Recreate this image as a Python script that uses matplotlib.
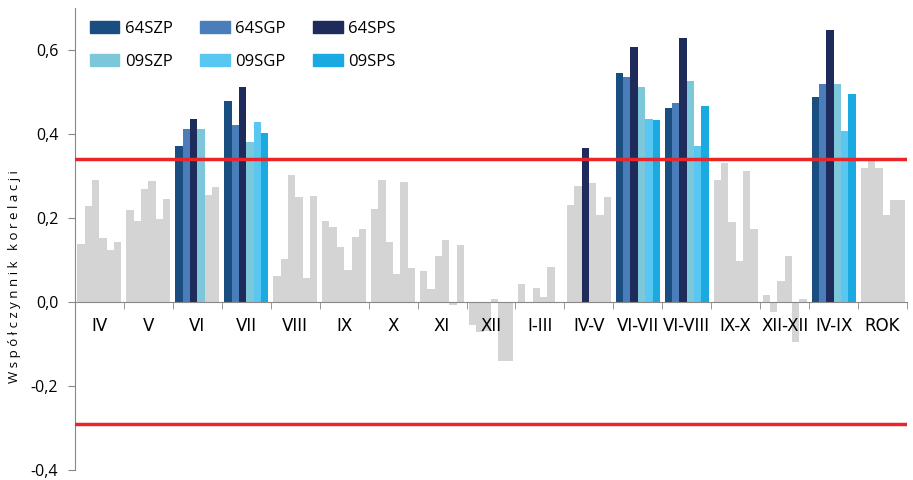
import matplotlib.pyplot as plt
import numpy as np

categories = ["IV", "V", "VI", "VII", "VIII", "IX", "X", "XI", "XII", "I-III",
              "IV-V", "VI-VII", "VI-VIII", "IX-X", "XII-XII", "IV-IX", "ROK"]

series_names = ["64SZP", "64SGP", "64SPS", "09SZP", "09SGP", "09SPS"]

s64SZP = [0.139, 0.220, 0.372, 0.479, 0.063, 0.194, 0.222, 0.073, -0.054, 0.044,
          0.232, 0.546, 0.462, 0.290, 0.017, 0.487, 0.319]
s64SGP = [0.229, 0.194, 0.413, 0.421, 0.103, 0.179, 0.290, 0.030, -0.071, 0.0,
          0.276, 0.535, 0.474, 0.331, -0.023, 0.519, 0.337]
s64SPS = [0.290, 0.270, 0.436, 0.511, 0.303, 0.131, 0.144, 0.109, -0.069, 0.034,
          0.367, 0.607, 0.628, 0.191, 0.050, 0.648, 0.319]
s09SZP = [0.153, 0.289, 0.413, 0.382, 0.250, 0.076, 0.066, 0.147, 0.008, 0.012,
          0.284, 0.511, 0.526, 0.098, 0.110, 0.518, 0.208]
s09SGP = [0.125, 0.198, 0.254, 0.428, 0.057, 0.155, 0.286, -0.008, -0.141, 0.083,
          0.208, 0.436, 0.372, 0.312, -0.095, 0.408, 0.242]
s09SPS = [0.143, 0.246, 0.273, 0.403, 0.253, 0.174, 0.082, 0.136, -0.141, 0.0,
          0.251, 0.434, 0.467, 0.174, 0.008, 0.496, 0.242]

# critical correlation values (red lines)
crit_pos = 0.34
crit_neg = -0.29

colors = ["#1a4e80", "#4a7ebb", "#1f2b5b", "#7cc8da", "#58c8f2", "#1aa9e1"]
gray = "#d4d4d4"

all_series = [s64SZP, s64SGP, s64SPS, s09SZP, s09SGP, s09SPS]

fig = plt.figure(figsize=(9.13, 4.8), dpi=100)
ax = fig.add_axes([75 / 913, 10 / 480, 832 / 913, 462 / 480])
ax.set_axisbelow(False)

x = np.arange(len(categories))
w = 0.15
for i, (name, vals, c) in enumerate(zip(series_names, all_series, colors)):
    vals = np.array(vals)
    bar_colors = [c if v > crit_pos else gray for v in vals]
    ax.bar(x + (i - 2.5) * w, vals, width=w, color=bar_colors, linewidth=0, zorder=1)

ax.axhline(crit_pos, color="#e8262a", lw=2.5, zorder=3)
ax.axhline(crit_neg, color="#e8262a", lw=2.5, zorder=3)

ax.set_xlim(-0.5, len(categories) - 0.5)
ax.set_ylim(-0.4, 0.7)

ax.spines["top"].set_visible(False)
ax.spines["right"].set_visible(False)
ax.spines["bottom"].set_position(("data", 0))
ax.spines["left"].set_color("#888888")
ax.spines["bottom"].set_color("#888888")

ax.set_yticks([-0.4, -0.2, 0.0, 0.2, 0.4, 0.6])
ax.set_yticklabels(["-0,4", "-0,2", "0,0", "0,2", "0,4", "0,6"],
                   fontsize=11.5, family="Open Sans")
ax.tick_params(axis="y", length=5, color="#888888", pad=7)

ax.set_xticks(x + 0.5, minor=True)
ax.set_xticks(x)
ax.set_xticklabels(categories, fontsize=12,
                   family=["Liberation Sans Narrow", "DejaVu Sans"])
ax.tick_params(axis="x", which="major", length=0, pad=11)
ax.tick_params(axis="x", which="minor", length=5, color="#888888", direction="out")

fig.text(15 / 913, 1 - 277 / 480, "W s p ó ł c z y n n i k   k o r e l a c j i",
         rotation=90, ha="center", va="center", fontsize=9.5, family="Open Sans")

handles = [plt.Rectangle((0, 0), 1, 1, color=c) for c in colors]
order = [0, 3, 1, 4, 2, 5]
leg = ax.legend([handles[i] for i in order], [series_names[i] for i in order],
                ncol=3, loc="upper left", bbox_to_anchor=(0.018, 0.972),
                frameon=False, prop={"family": "Open Sans", "size": 12},
                handlelength=1.75, handleheight=0.7, handletextpad=0.35,
                columnspacing=1.65, labelspacing=1.02, borderpad=0, borderaxespad=0)

fig.savefig("out.png", dpi=100)
